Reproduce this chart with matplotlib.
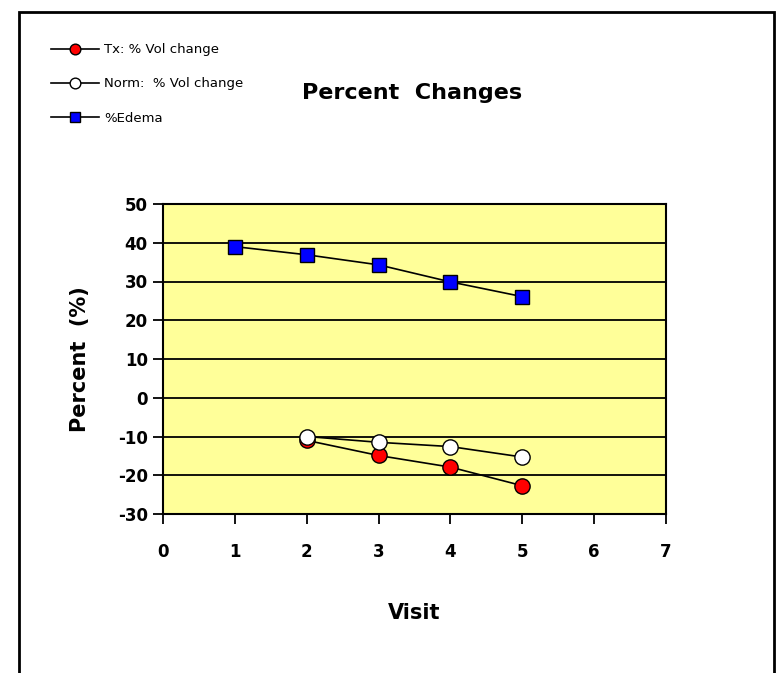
import matplotlib
matplotlib.use('Agg')
import matplotlib.pyplot as plt
from matplotlib.patches import Rectangle

plt.rcParams['axes.unicode_minus'] = False

# data
visits_edema = [1, 2, 3, 4, 5]
edema = [39.0, 36.9, 34.3, 29.9, 26.1]
visits_vol = [2, 3, 4, 5]
tx_vol = [-11.0, -14.9, -17.9, -22.7]
norm_vol = [-10.0, -11.5, -12.6, -15.3]
x_ticks = [0, 1, 2, 3, 4, 5, 6, 7]
y_ticks = [-30, -20, -10, 0, 10, 20, 30, 40, 50]

fig = plt.figure(figsize=(7.76, 6.73), dpi=100)
ax = fig.add_axes([163 / 776, 1 - 514 / 673, (666 - 163) / 776, (514 - 204) / 673])
ax.set_facecolor('#FFFF99')

for y in y_ticks[1:-1]:
    ax.axhline(y, color='black', linewidth=1.3, zorder=1)

ax.plot(visits_vol, tx_vol, color='black', linewidth=1.2, marker='o', markersize=11,
        markerfacecolor='#FF0000', markeredgecolor='black', label='Tx: % Vol change', zorder=3)
ax.plot(visits_vol, norm_vol, color='black', linewidth=1.2, marker='o', markersize=11,
        markerfacecolor='white', markeredgecolor='black', label='Norm:  % Vol change', zorder=4)
ax.plot(visits_edema, edema, color='black', linewidth=1.2, marker='s', markersize=10,
        markerfacecolor='#0000FF', markeredgecolor='black', label='%Edema', zorder=3)

ax.set_xlim(0, 7)
ax.set_ylim(-30, 50)
ax.set_xticks(x_ticks)
ax.set_yticks(y_ticks)
ax.tick_params(direction='out', length=7, width=1.3, labelsize=12, pad=14)
ax.tick_params(axis='y', pad=4)
for lab in ax.get_xticklabels() + ax.get_yticklabels():
    lab.set_fontweight('bold')
for s in ax.spines.values():
    s.set_linewidth(1.5)
    s.set_color('black')

ax.set_xlabel('Visit', fontsize=15, fontweight='bold', labelpad=30)
ax.set_ylabel('Percent  (%)', fontsize=15, fontweight='bold', labelpad=20)

fig.text(412 / 776, 1 - 93 / 673, 'Percent  Changes', fontsize=16, fontweight='bold',
         ha='center', va='center')

fig.legend(loc='upper left', bbox_to_anchor=(46 / 776, 1 - 38 / 673), frameon=False,
           fontsize=9.5, handlelength=3.6, labelspacing=1.6, handletextpad=0.4,
           borderaxespad=0, markerscale=0.7)

fig.patches.append(Rectangle((19 / 776, -0.1), (774 - 19) / 776, 1.1 - 12 / 673,
                             transform=fig.transFigure, fill=False, edgecolor='black',
                             linewidth=2))

fig.savefig('out.png', dpi=100)
